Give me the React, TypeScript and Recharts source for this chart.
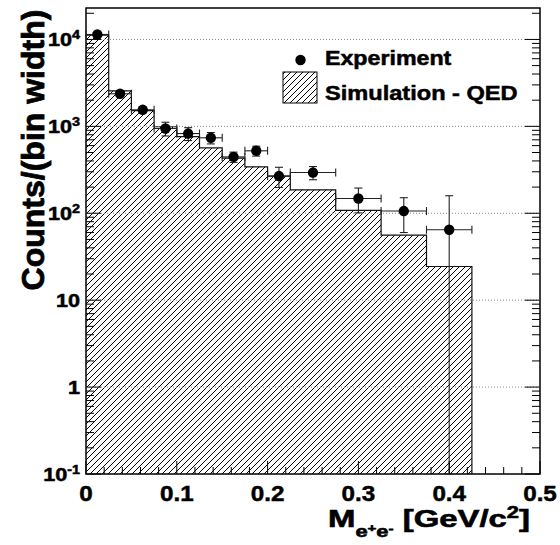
import React from "react";
import {
  ComposedChart,
  Area,
  Scatter,
  ErrorBar,
  XAxis,
  YAxis,
  ReferenceLine,
  ReferenceArea,
  Legend,
} from "recharts";

// simulated histogram (QED), bin edges in GeV/c^2
const binEdges = [0, 0.025, 0.05, 0.075, 0.1, 0.125, 0.15, 0.175, 0.2, 0.225, 0.275, 0.325, 0.375, 0.425];
const simCounts = [11200, 2560, 1520, 990, 760, 565, 432, 342, 267, 186, 108, 56, 24.4];

// experiment points
const expMass = [0.0125, 0.0375, 0.0625, 0.0875, 0.1125, 0.1375, 0.1625, 0.1875, 0.2125, 0.25, 0.3, 0.35, 0.4];
const expCounts = [11400, 2370, 1550, 945, 826, 738, 445, 523, 268, 294, 148, 106, 64.6];
const expErrLow = [250, 110, 110, 170, 140, 110, 60, 68, 70, 51, 47, 46, 64.5];
const expErrHigh = [250, 110, 110, 170, 140, 110, 60, 68, 70, 51, 47, 45, 94.5];
const expHalfWidth = [0.0125, 0.0125, 0.0125, 0.0125, 0.0125, 0.0125, 0.0125, 0.0125, 0.0125, 0.025, 0.025, 0.025, 0.025];

// axes
const xMajorTicks = [0, 0.1, 0.2, 0.3, 0.4, 0.5];
const xTickLabels = ["0", "0.1", "0.2", "0.3", "0.4", "0.5"];
const yDecades = [0.1, 1, 10, 100, 1000, 10000];
const yDecadeBase = ["10", "1", "10", "10", "10", "10"];
const yDecadeExp = ["-1", "", "", "2", "3", "4"];
const Y_MIN = 0.1;
const Y_MAX = 23000;

const FONT = "'Liberation Sans', Arial, Helvetica, sans-serif";
// heavier look, like the ROOT bold font
const bold = { fontWeight: "bold", fontFamily: FONT, fill: "#000", stroke: "#000", strokeWidth: 0.5 } as const;

const histData = binEdges.map((x, i) => ({
  x,
  sim: i < simCounts.length ? simCounts[i] : Y_MIN,
}));

const expData = expMass.map((x, i) => ({
  x,
  y: expCounts[i],
  ex: expHalfWidth[i],
  ey: [expErrLow[i], expErrHigh[i]],
}));

const xMinorTicks = Array.from({ length: 26 }, (_, i) => i)
  .filter((i) => i % 5 !== 0)
  .map((i) => Math.round(i * 2) / 100);
const xAllTicks = [...xMajorTicks, ...xMinorTicks].sort((a, b) => a - b);

const yAllTicks = yDecades
  .flatMap((d) => [1, 2, 3, 4, 5, 6, 7, 8, 9].map((k) => Number((d * k).toPrecision(3))))
  .filter((v) => v <= Y_MAX);

const decadeIndex = (v: number) => yDecades.findIndex((d) => Math.abs(d - v) / d < 1e-6);

function LeftTick(props: any) {
  const { x, y, payload } = props;
  const idx = decadeIndex(payload.value);
  const major = idx >= 0;
  return (
    <g>
      <line x1={x} x2={x + (major ? 15 : 8)} y1={y} y2={y} stroke="#000" strokeWidth={1} />
      {major && (
        <g transform={`translate(${x - 6},${y + 7}) scale(1.2,1)`}>
          <text textAnchor="end" fontSize={18} {...bold}>
            {yDecadeBase[idx]}
            {yDecadeExp[idx] && (
              <tspan dy={-7.5} fontSize={12}>
                {yDecadeExp[idx]}
              </tspan>
            )}
          </text>
        </g>
      )}
    </g>
  );
}

function RightTick(props: any) {
  const { x, y, payload } = props;
  const major = decadeIndex(payload.value) >= 0;
  return <line x1={x} x2={x - (major ? 15 : 8)} y1={y} y2={y} stroke="#000" strokeWidth={1} />;
}

function BottomTick(props: any) {
  const { x, y, payload } = props;
  const idx = xMajorTicks.findIndex((t) => Math.abs(t - payload.value) < 1e-9);
  const major = idx >= 0;
  return (
    <g>
      <line x1={x} x2={x} y1={y} y2={y - (major ? 13 : 7)} stroke="#000" strokeWidth={1} />
      {major && (
        <g transform={`translate(${x},${y + 27}) scale(1.1,1)`}>
          <text textAnchor="middle" fontSize={22} {...bold}>
            {xTickLabels[idx]}
          </text>
        </g>
      )}
    </g>
  );
}

function LegendBox() {
  return (
    <svg width={260} height={70}>
      <defs>
        <pattern id="hatchLegend" patternUnits="userSpaceOnUse" width={6} height={6}>
          <path d="M-1,1 l2,-2 M0,6 l6,-6 M5,7 l2,-2" stroke="#000" strokeWidth={1} />
        </pattern>
      </defs>
      <circle cx={25.5} cy={20} r={5.2} fill="#000" />
      <g transform="translate(50,25) scale(1.19,1)">
        <text fontSize={19.5} {...bold}>
          Experiment
        </text>
      </g>
      <rect x={8} y={32} width={34} height={31} fill="url(#hatchLegend)" stroke="#000" strokeWidth={1} />
      <g transform="translate(50,60) scale(1.18,1)">
        <text fontSize={20} {...bold}>
          Simulation - QED
        </text>
      </g>
    </svg>
  );
}

export default function App() {
  return (
    <div style={{ position: "absolute", left: 0, top: 0, background: "#fff" }}>
      <ComposedChart
        width={560}
        height={545}
        data={histData}
        margin={{ top: 8, right: 0, bottom: 0, left: 0 }}
      >
        <defs>
          <pattern id="hatch" patternUnits="userSpaceOnUse" width={6} height={6}>
            <path d="M-1,1 l2,-2 M0,6 l6,-6 M5,7 l2,-2" stroke="#000" strokeWidth={1} />
          </pattern>
        </defs>
        <XAxis
          type="number"
          dataKey="x"
          domain={[0, 0.5]}
          allowDataOverflow
          ticks={xAllTicks}
          interval={0}
          height={71}
          tickSize={0}
          tickMargin={0}
          tickLine={false}
          axisLine={false}
          tick={(p: any) => <BottomTick {...p} />}
        />
        <YAxis
          scale="log"
          type="number"
          domain={[Y_MIN, Y_MAX]}
          allowDataOverflow
          ticks={yAllTicks}
          interval={0}
          width={86}
          tickSize={0}
          tickMargin={0}
          tickLine={false}
          axisLine={false}
          tick={(p: any) => <LeftTick {...p} />}
        />
        <YAxis
          yAxisId="right"
          orientation="right"
          scale="log"
          type="number"
          domain={[Y_MIN, Y_MAX]}
          allowDataOverflow
          ticks={yAllTicks}
          interval={0}
          width={20}
          tickSize={0}
          tickMargin={0}
          tickLine={false}
          axisLine={false}
          tick={(p: any) => <RightTick {...p} />}
        />
        {yDecades.slice(1).map((v) => (
          <ReferenceLine key={v} y={v} stroke="#888" strokeWidth={1} strokeDasharray="1 2" />
        ))}
        <Area
          type="stepAfter"
          dataKey="sim"
          baseValue={Y_MIN}
          stroke="#111"
          strokeWidth={1.2}
          fill="url(#hatch)"
          fillOpacity={1}
          dot={false}
          activeDot={false}
          isAnimationActive={false}
        />
        <Scatter
          data={expData}
          dataKey="y"
          isAnimationActive={false}
          shape={(p: any) => <circle cx={p.cx} cy={p.cy} r={5.2} fill="#000" />}
        >
          <ErrorBar dataKey="ex" direction="x" width={4} stroke="#222" strokeWidth={1.1} />
          <ErrorBar dataKey="ey" direction="y" width={4} stroke="#222" strokeWidth={1.1} />
        </Scatter>
        <ReferenceArea
          x1={0}
          x2={0.5}
          y1={Y_MIN}
          y2={Y_MAX}
          fill="none"
          fillOpacity={0}
          stroke="#000"
          strokeWidth={1.5}
        />
        <Legend
          layout="horizontal"
          verticalAlign="middle"
          align="center"
          wrapperStyle={{ left: 275, top: 40, width: 260, height: 70 }}
          content={() => <LegendBox />}
        />
        <text transform="translate(44,150) rotate(-90)" textAnchor="middle" fontSize={32} {...bold} strokeWidth={0.8}>
          Counts/(bin width)
        </text>
        <g transform="translate(328,527) scale(1.37,1)">
          <text fontSize={24} {...bold} strokeWidth={0.6}>
            M
            <tspan fontSize={16} dy={10}>e</tspan>
            <tspan fontSize={11} dy={-5}>+</tspan>
            <tspan fontSize={16} dy={5}>e</tspan>
            <tspan fontSize={11} dy={-5}>-</tspan>
            <tspan fontSize={24} dy={-5}>{" [GeV/c"}</tspan>
            <tspan fontSize={16} dy={-9}>2</tspan>
            <tspan fontSize={24} dy={9}>]</tspan>
          </text>
        </g>
      </ComposedChart>
    </div>
  );
}
